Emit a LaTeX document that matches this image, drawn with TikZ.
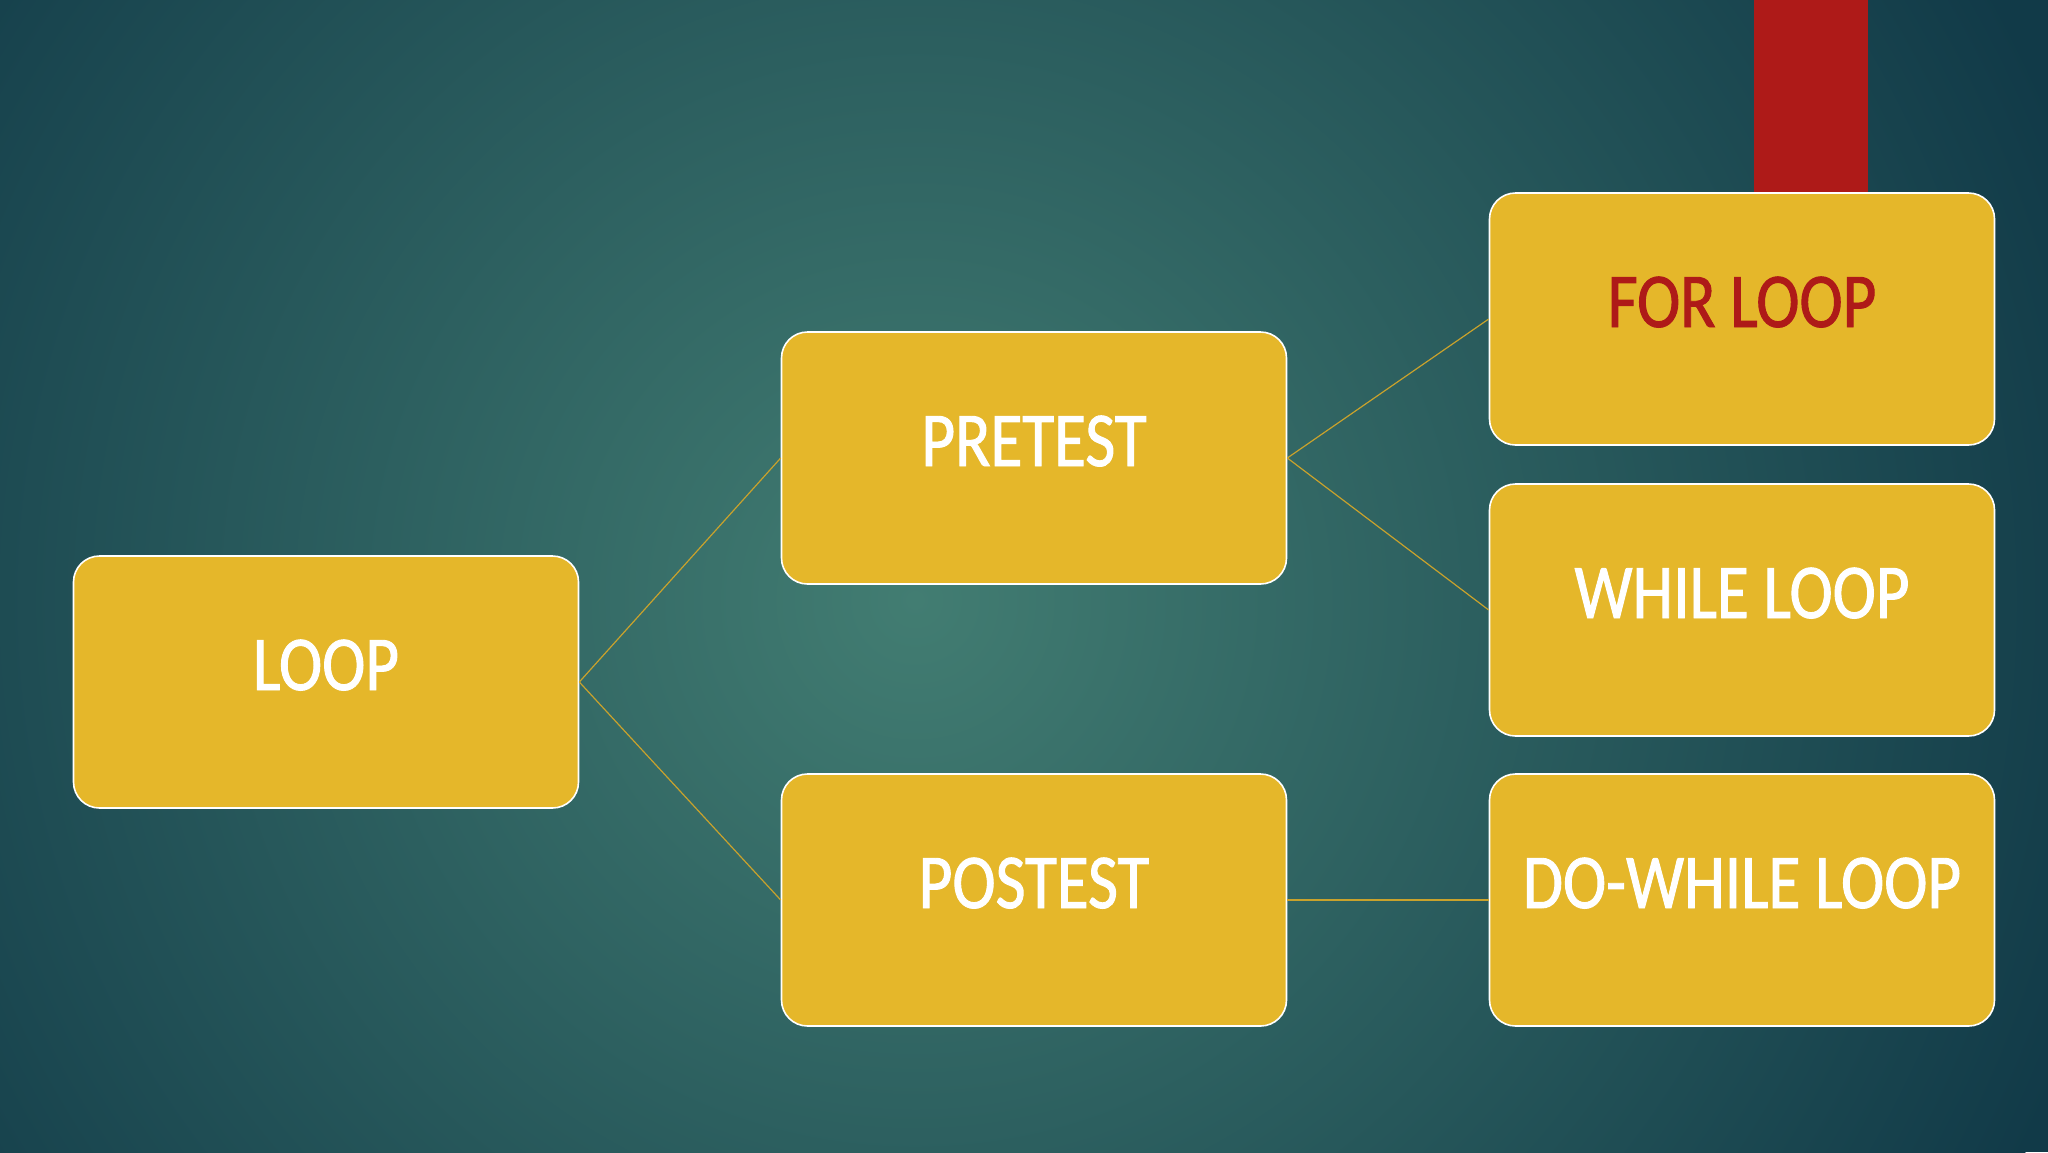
\documentclass[tikz,border=0pt]{standalone}
\usepackage{fontspec}
\setmainfont{Carlito}[FakeStretch=0.84,FakeBold=1.2]
\definecolor{bgdark}{HTML}{113A48}
\definecolor{bglight}{HTML}{427D72}
\definecolor{boxgold}{HTML}{E5B72A}
\definecolor{linegold}{HTML}{C9A22C}
\definecolor{barred}{HTML}{AE1A18}

\begin{document}
\begin{tikzpicture}
  [x=0.5pt, y=-0.5pt,
   box/.style={rectangle, rounded corners=13pt, draw=white, line width=0.8pt,
     fill=boxgold, minimum width=252.5pt, minimum height=126pt, text=white,
     font=\fontsize{38.8}{46}\selectfont, text height=25pt, text depth=17pt},
   link/.style={draw=linegold, line width=0.6pt}]
  \useasboundingbox (0,0) rectangle (2048,1152);

  % background
  \clip (0,0) rectangle (2048,1152);
  \fill [bgdark] (0,0) rectangle (2048,1152);
  \shade [inner color=bglight, outer color=bgdark] (915,600) circle (620pt);

  % red bar behind the first box
  \fill [barred] (1754,0) rectangle (1868,200);

  \node [box] (n1)  at (326,682) {LOOP};
  \node [box] (n21) at (1034,458) {PRETEST};
  \node [box] (n22) at (1034,900) {POSTEST};
  \node [box, text=barred] (n31) at (1742,319) {FOR LOOP};
  \node [box] (n32) at (1742,610) {WHILE LOOP};
  \node [box] (n33) at (1742,900) {DO-WHILE LOOP};

  % first level
  \draw [link] (n1.east) -- (n21.west);
  \draw [link] (n1.east) -- (n22.west);

  % second level
  \draw [link] (n21.east) -- (n31.west);
  \draw [link] (n21.east) -- (n32.west);
  \draw [link] (n22.east) -- (n33.west);
\end{tikzpicture}
\end{document}
